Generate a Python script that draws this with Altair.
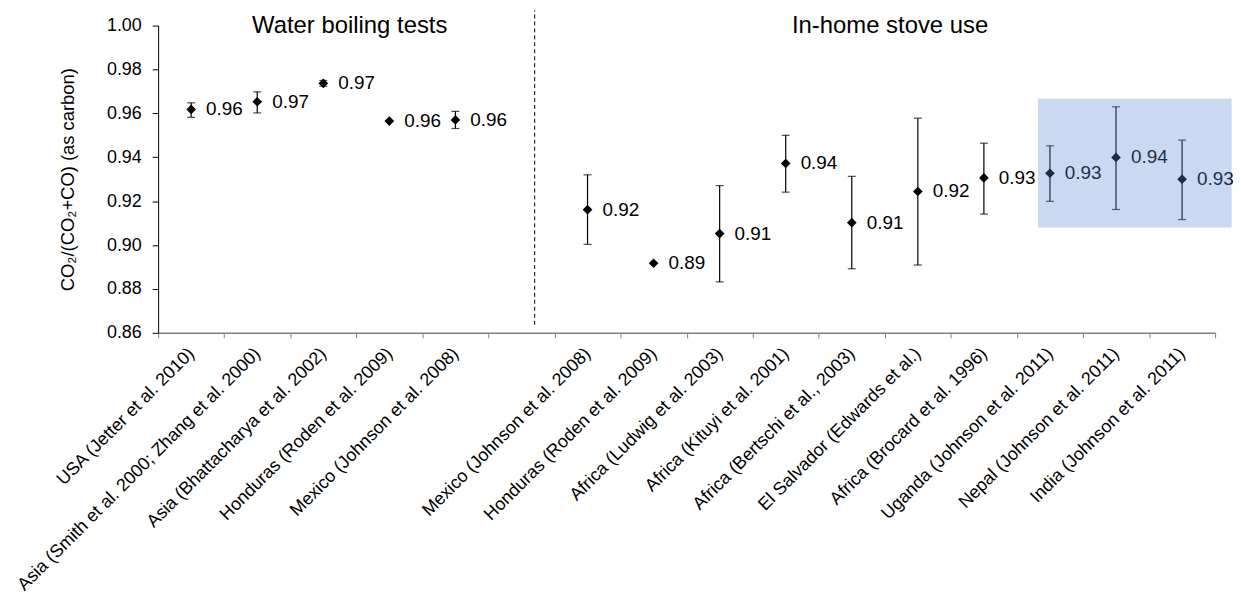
import json
import altair as alt
import pandas as pd

# ---- data ----
categories = [
    "USA (Jetter et al. 2010)",
    "Asia (Smith et al. 2000; Zhang et al. 2000)",
    "Asia (Bhattacharya et al. 2002)",
    "Honduras (Roden et al. 2009)",
    "Mexico (Johnson et al. 2008)",
    "",
    "Mexico (Johnson et al. 2008)",
    "Honduras (Roden et al. 2009)",
    "Africa (Ludwig et al. 2003)",
    "Africa (Kituyi et al. 2001)",
    "Africa (Bertschi et al., 2003)",
    "El Salvador (Edwards et al.)",
    "Africa (Brocard et al. 1996)",
    "Uganda (Johnson et al. 2011)",
    "Nepal (Johnson et al. 2011)",
    "India (Johnson et al. 2011)",
]
ratio = [0.9618, 0.9653, 0.9737, 0.9565, 0.9570, None,
         0.9161, 0.8917, 0.9052, 0.9372, 0.9102, 0.9244, 0.9306, 0.9327, 0.9399, 0.9300]
upper = [0.9648, 0.9698, 0.9750, None, 0.9609, None,
         0.9320, None, 0.9271, 0.9500, 0.9313, 0.9578, 0.9464, 0.9452, 0.9630, 0.9478]
lower = [0.9582, 0.9602, 0.9724, None, 0.9531, None,
         0.9003, None, 0.8832, 0.9241, 0.8892, 0.8909, 0.9141, 0.9199, 0.9162, 0.9116]

y_ticks = [0.86, 0.88, 0.90, 0.92, 0.94, 0.96, 0.98, 1.00]

section_titles = ["Water boiling tests", "In-home stove use"]
section_pos = [2.9, 11.08]
section_y = [0.9968, 0.9968]

divider_x = [5.70]
divider_y = [0.8637]
divider_y2 = [1.007]

highlight_x = [13.32]
highlight_x2 = [16.25]
highlight_y = [0.908]
highlight_y2 = [0.9667]

# ---- tables ----
df = pd.DataFrame({
    "pos": [i + 0.5 for i in range(len(categories))],
    "study": categories,
    "ratio": ratio,
    "lower": lower,
    "upper": upper,
})
pts = df.dropna(subset=["ratio"])
bars = df.dropna(subset=["lower"])
titles_df = pd.DataFrame({"pos": section_pos, "y": section_y, "t": section_titles})
div_df = pd.DataFrame({"x": divider_x, "y": divider_y, "y2": divider_y2})
hl_df = pd.DataFrame({"x": highlight_x, "x2": highlight_x2, "y": highlight_y, "y2": highlight_y2})

FONT = "Liberation Sans"
n = len(categories)
xscale = alt.Scale(domain=[0, n], nice=False, zero=False)
yscale = alt.Scale(domain=[0.86, 1.0], nice=False, zero=False)

label_expr = json.dumps(categories) + "[datum.value] || ''"

xaxis = alt.Axis(
    values=list(range(n + 1)), labelExpr=label_expr, labelAngle=-45,
    labelAlign="right", labelBaseline="middle", labelOffset=33.2,
    labelPadding=13, labelFontSize=18, labelFont=FONT, labelColor="black",
    labelOverlap=False, labelFlush=False, labelBound=False, labelLimit=0,
    tickSize=5, tickColor="#808080", domainColor="#808080", domainWidth=1.5,
    grid=False, title=None,
)
yaxis = alt.Axis(
    values=y_ticks, format=".2f", title="CO₂/(CO₂+CO) (as carbon)",
    titleFontSize=18.5, titleFontWeight="normal", titleFont=FONT, titleColor="black",
    titlePadding=29, labelFontSize=18, labelFont=FONT, labelColor="black",
    labelPadding=11, tickSize=6, tickColor="black", domainColor="black",
    grid=False,
)


def X(field):
    return alt.X(field, type="quantitative", scale=xscale, axis=xaxis)


def Y(field):
    return alt.Y(field, type="quantitative", scale=yscale, axis=yaxis)


rules = alt.Chart(bars).mark_rule(color="black", strokeWidth=1.2).encode(
    x=X("pos"), y=Y("lower"), y2="upper"
)
cap_hi = alt.Chart(bars).mark_tick(orient="horizontal", size=8, thickness=1.2, color="black").encode(
    x=X("pos"), y=Y("upper")
)
cap_lo = alt.Chart(bars).mark_tick(orient="horizontal", size=8, thickness=1.2, color="black").encode(
    x=X("pos"), y=Y("lower")
)
points = alt.Chart(pts).mark_point(shape="diamond", filled=True, size=95, color="black", opacity=1).encode(
    x=X("pos"), y=Y("ratio")
)
labels = alt.Chart(pts).mark_text(align="left", baseline="middle", dx=15, fontSize=19, font=FONT, color="black").encode(
    x=X("pos"), y=Y("ratio"), text=alt.Text("ratio:Q", format=".2f")
)
titles = alt.Chart(titles_df).mark_text(align="center", baseline="alphabetic", fontSize=24, font=FONT, color="black").encode(
    x=X("pos"), y=Y("y"), text="t:N"
)
divider = alt.Chart(div_df).mark_rule(color="black", strokeWidth=1, strokeDash=[4, 3]).encode(
    x=X("x"), y=Y("y"), y2="y2"
)
highlight = alt.Chart(hl_df).mark_rect(color="#5b88d4", opacity=0.32).encode(
    x=X("x"), x2="x2", y=Y("y"), y2="y2"
)

chart = alt.layer(divider, rules, cap_hi, cap_lo, points, labels, titles, highlight).properties(
    width=1063, height=309,
    autosize=alt.AutoSizeParams(type="none"),
    padding={"left": 151, "top": 16, "right": 18, "bottom": 260},
).configure_view(stroke=None)

chart.save("out.html", embed_options={"renderer": "svg", "actions": False})
